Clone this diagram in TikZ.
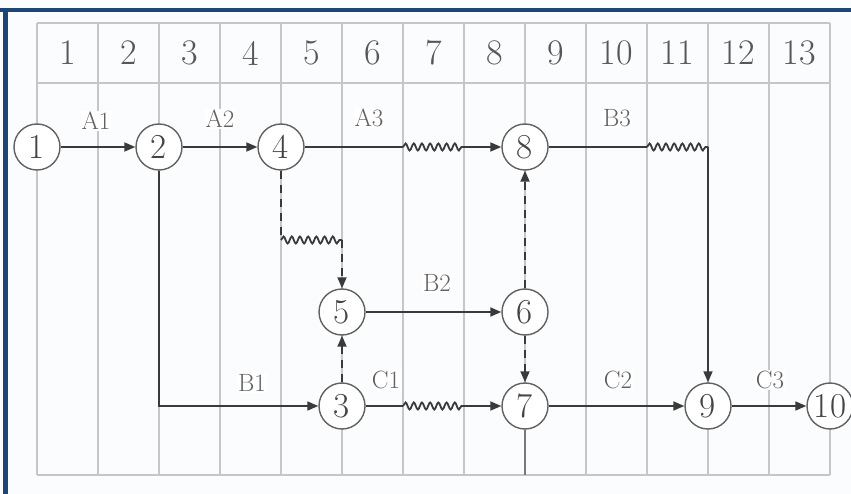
\documentclass[tikz,border=0pt]{standalone}
\usepackage{tikz}
\usetikzlibrary{arrows.meta,positioning,decorations.pathmorphing}
\definecolor{framebl}{HTML}{1D4578}
\definecolor{gridgr}{HTML}{C6C6C6}
\definecolor{inkgr}{HTML}{3A3A3A}
\definecolor{paper}{HTML}{FAFCFD}

\begin{document}
\begin{tikzpicture}[x=1pt,y=-1pt,>={Triangle[length=11pt,width=9pt]},
  ev/.style={circle,draw=inkgr!80,line width=1.4pt,fill=white,minimum size=46pt,
             inner sep=0pt,font=\fontsize{35}{35}\selectfont,text=inkgr!95},
  job/.style={line width=1.8pt,draw=inkgr},
  dum/.style={job,dash pattern=on 8pt off 6pt},
  wav/.style={job,decorate,decoration={snake,amplitude=3.5pt,segment length=8.2pt}},
  lbl/.style={fill=white,inner sep=1pt,text=inkgr!80,font=\fontsize{25}{25}\selectfont},
  hd/.style={text=inkgr!85,font=\fontsize{36}{36}\selectfont},
  grd/.style={draw=gridgr,line width=1.2pt}]
  \useasboundingbox (0,0) rectangle (851,494);
  \fill[paper] (0,0) rectangle (851,494);

  % frame
  \fill[framebl] (0,8) rectangle (851,12.5);
  \fill[framebl] (3,8) rectangle (7.5,494);

  % time grid
  \foreach \i in {0,...,13}
    \draw[grd] ({37+61*\i},23) -- ({37+61*\i},475);
  \draw[grd] (37,23) -- (830,23);
  \draw[grd] (37,83) -- (830,83);
  \draw[grd] (37,475) -- (830,475);
  \foreach \i in {1,...,13}
    \node[hd] (h\i) at ({37+61*\i-30.5},53) {\i};

  % events
  \node[ev] (n1)  at (37,147)  {1};
  \node[ev] (n2)  at (159,147) {2};
  \node[ev] (n4)  at (281,147) {4};
  \node[ev] (n8)  at (525,147) {8};
  \node[ev] (n5)  at (342,312) {5};
  \node[ev] (n6)  at (525,312) {6};
  \node[ev] (n3)  at (342,406) {3};
  \node[ev] (n7)  at (525,406) {7};
  \node[ev] (n9)  at (708,406) {9};
  \node[ev] (n10) at (830,406) {10};

  \coordinate (w1a) at (403,147);
  \coordinate (w1b) at (464,147);
  \coordinate (w2a) at (647,147);
  \coordinate (w2b) at (708,147);
  \coordinate (w3a) at (281,240);
  \coordinate (w3b) at (342,240);
  \coordinate (w4a) at (403,406);
  \coordinate (w4b) at (464,406);
  \coordinate (bot) at (525,475);

  % activity names
  \node[lbl] (lA1) at (96,121)  {A1};
  \node[lbl] (lA2) at (220,119) {A2};
  \node[lbl] (lA3) at (369,118) {A3};
  \node[lbl] (lB3) at (617,118) {B3};
  \node[lbl] (lB2) at (437,283) {B2};
  \node[lbl] (lB1) at (252,383) {B1};
  \node[lbl] (lC1) at (386,380) {C1};
  \node[lbl] (lC2) at (618,380) {C2};
  \node[lbl] (lC3) at (770,380) {C3};

  % activities
  \draw[job,->] (n1) -- (n2);
  \draw[job,->] (n2) -- (n4);
  \draw[job] (n4) -- (w1a);
  \draw[wav] (w1a) -- (w1b);
  \draw[job,->] (w1b) -- (n8);
  \draw[job] (n8) -- (w2a);
  \draw[wav] (w2a) -- (w2b);
  \draw[job,->] (w2b) -- (n9);
  \draw[job,->] (n2) |- (n3);
  \draw[dum] (n4) -- (w3a);
  \draw[wav] (w3a) -- (w3b);
  \draw[dum,->] (w3b) -- (n5);
  \draw[dum,->] (n3) -- (n5);
  \draw[job,->] (n5) -- (n6);
  \draw[dum,->] (n6) -- (n8);
  \draw[dum,->] (n6) -- (n7);
  \draw[job] (n3) -- (w4a);
  \draw[wav] (w4a) -- (w4b);
  \draw[job,->] (w4b) -- (n7);
  \draw[job,->] (n7) -- (n9);
  \draw[job,->] (n9) -- (n10);
  \draw[gridgr!45!inkgr,line width=1.4pt] (n7) -- (bot);
\end{tikzpicture}
\end{document}
